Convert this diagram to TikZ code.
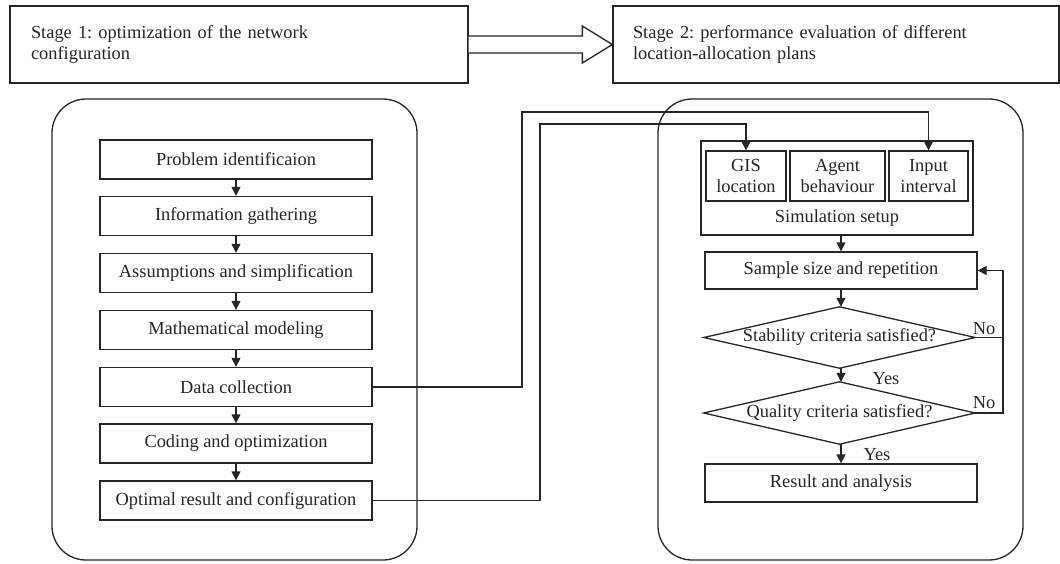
\documentclass[tikz,border=0pt]{standalone}
\usepackage{fontspec}
\setmainfont{Liberation Serif}
\usetikzlibrary{arrows.meta,calc}
\frenchspacing
\begin{document}
\begin{tikzpicture}[x=1pt,y=-1pt,
  every node/.style={font=\fontsize{18.4}{21}\selectfont, text=black!85},
  ln/.style={draw=black!85, line width=1.3pt},
  box/.style={ln, rectangle, inner sep=0pt, align=center},
  lb/.style={box, minimum width=272pt, minimum height=39pt},
  arr/.style={ln, -{Triangle[length=9pt,width=9pt]}},
  lbl/.style={inner sep=0pt}
]
\useasboundingbox (0,0) rectangle (1060,563);
% stage boxes
\node[box, minimum width=458pt, minimum height=77pt, text width=416pt, align=left] (s1) at (239,44.5) {Stage 1: optimization of the network\\configuration};
\node[box, minimum width=446pt, minimum height=77pt, text width=406pt, align=left] (s2) at (836,44.5) {Stage 2: performance evaluation of different\\location-allocation plans};
\draw[ln, fill=white] ($(s1.east)+(0,-8.5)$) -- ($(s2.west)+(-30,-8.5)$) -- ($(s2.west)+(-30,-18.5)$) -- (s2.west) -- ($(s2.west)+(-30,18.5)$) -- ($(s2.west)+(-30,8.5)$) -- ($(s1.east)+(0,8.5)$);
% panels
\node[box, rounded corners=34pt, minimum width=365pt, minimum height=461pt] (lp) at (234.5,329.5) {};
\node[box, rounded corners=34pt, minimum width=365pt, minimum height=461pt] (rp) at (840.5,329.5) {};
% left column
\node[lb] (prob) at (236,159.5) {Problem identificaion};
\node[lb] (info) at (236,216) {Information gathering};
\node[lb] (assu) at (236,273) {Assumptions and simplification};
\node[lb] (math) at (236,330) {Mathematical modeling};
\node[lb] (data) at (236,387) {Data collection};
\node[lb] (code) at (236,443.5) {Coding and optimization};
\node[lb] (opt) at (236,500.5) {Optimal result and configuration};
\foreach \a/\b in {prob/info,info/assu,assu/math,math/data,data/code,code/opt}
  \draw[arr] (\a.south) -- (\b.north);
% right column
\node[box, minimum width=272pt, minimum height=94pt] (setup) at (837,188) {};
\node[lbl] (setuplbl) at (837,218) {Simulation setup};
\node[box, minimum width=80pt, minimum height=50pt] (gis) at (746,176) {GIS\\location};
\node[box, minimum width=95pt, minimum height=50pt] (agent) at (837.5,176) {Agent\\behaviour};
\node[box, minimum width=79pt, minimum height=50pt] (input) at (928.5,176) {Input\\interval};
\node[box, minimum width=272pt, minimum height=37pt] (sample) at (841,270.5) {Sample size and repetition};
\node[lbl, minimum width=271pt, minimum height=61pt] (stab) at (839.5,337.5) {Stability criteria satisfied?};
\draw[ln] (stab.west) -- (stab.north) -- (stab.east) -- (stab.south) -- cycle;
\node[lbl, minimum width=271pt, minimum height=62pt] (qual) at (839.5,413) {Quality criteria satisfied?};
\draw[ln] (qual.west) -- (qual.north) -- (qual.east) -- (qual.south) -- cycle;
\node[box, minimum width=272pt, minimum height=38pt] (result) at (841,483) {Result and analysis};
% right connectors
\draw[arr] (setup.south -| sample.north) -- (sample.north);
\draw[arr] (sample.south) -- (sample.south |- stab.north);
\draw[arr] (sample.south |- stab.south) -- (sample.south |- qual.north);
\draw[arr] (sample.south |- qual.south) -- (result.north);
\node[lbl] (yes1) at (886,379) {Yes};
\node[lbl] (yes2) at (877,455) {Yes};
\coordinate (fb1) at (1003,337.5);
\coordinate (fb2) at (1003,413);
\draw[ln] (stab.east) -- (fb1);
\draw[arr] (qual.east) -- (fb2) |- (sample.east);
\node[lbl] (no1) at (984,329) {No};
\node[lbl] (no2) at (984,403) {No};
% cross connectors
\coordinate (c1) at (522,112);
\coordinate (c2) at (540,124);
\draw[arr] (data.east) -| (c1) -| (input.north);
\draw[arr] (opt.east) -| (c2) -| (gis.north);
\end{tikzpicture}
\end{document}
